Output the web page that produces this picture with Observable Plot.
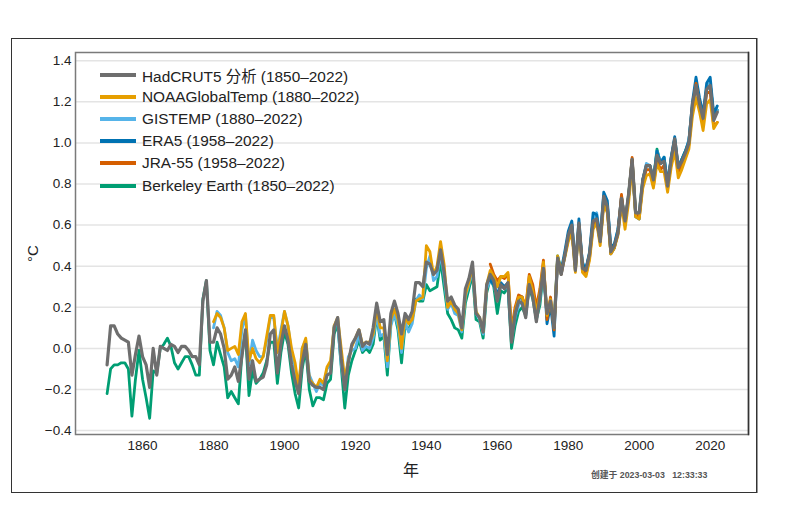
<!DOCTYPE html>
<html>
<head>
<meta charset="utf-8">
<script src="https://cdn.jsdelivr.net/npm/d3@7"></script>
<script src="https://cdn.jsdelivr.net/npm/@observablehq/plot@0.6"></script>
<style>
  body { margin: 0; background: #fff; font-family: "Liberation Sans", "Noto Sans CJK SC", sans-serif; color: #222; }
  #wrap { position: relative; width: 793px; height: 517px; overflow: hidden; }
  #outer { position: absolute; left: 11px; top: 38px; width: 744px; height: 453px; border: 1px solid #333; box-shadow: 1px 0 0 #999; }
  #chart { position: absolute; left: 0; top: 0; }
  .legend { position: absolute; left: 100px; top: 64px; }
  .row { display: flex; align-items: center; height: 22.1px; font-size: 15.4px; white-space: nowrap; }
  .sw { width: 36px; height: 4px; margin-right: 6px; }
  .lab { position: absolute; font-size: 15px; color: #222; }
  #stamp { position: absolute; left: 591px; top: 468px; font-size: 8.8px; font-weight: 600; color: #555; white-space: pre; }
</style>
</head>
<body>
<div id="wrap">
  <div id="outer"></div>
  <div id="chart"></div>
  <div class="legend" id="legend"></div>
  <div class="lab" style="left:24px; top:245px; transform: rotate(-90deg); transform-origin: center;">°C</div>
  <div class="lab" style="left:403px; top:457px; font-size:16px;">年</div>
  <div id="stamp">创建于 2023-03-03   12:33:33</div>
</div>
<script>
// ---- Data (anomalies, °C, relative to 1850–1900) ----
const hadcrutStart = 1850;
const hadcrut = [
  -0.08, 0.11, 0.11, 0.07, 0.05, 0.04, 0.03, -0.13, -0.03, 0.06,
  -0.04, -0.08, -0.19, 0.00, -0.13, 0.01, 0.00, -0.01, 0.02, 0.01,
  -0.02, 0.01, 0.01, -0.01, -0.04, -0.04, -0.08, 0.23, 0.33, 0.03,
  0.03, 0.10, 0.07, 0.00, -0.15, -0.13, -0.09, -0.16, -0.04, 0.09,
  -0.15, -0.06, -0.16, -0.15, -0.14, -0.08, 0.07, 0.09, -0.12, 0.02,
  0.11, 0.04, -0.08, -0.16, -0.22, -0.07, 0.02, -0.16, -0.18, -0.19,
  -0.19, -0.20, -0.13, -0.12, 0.10, 0.15, -0.05, -0.20, -0.07, 0.02,
  0.05, 0.09, 0.01, 0.03, 0.02, 0.10, 0.22, 0.13, 0.14, -0.03,
  0.17, 0.23, 0.17, 0.07, 0.17, 0.14, 0.18, 0.32, 0.32, 0.30,
  0.42, 0.41, 0.36, 0.38, 0.48, 0.37, 0.23, 0.25, 0.21, 0.19,
  0.10, 0.29, 0.34, 0.42, 0.17, 0.15, 0.08, 0.31, 0.36, 0.33,
  0.23, 0.31, 0.29, 0.32, 0.03, 0.17, 0.23, 0.22, 0.15, 0.31,
  0.25, 0.13, 0.25, 0.39, 0.17, 0.23, 0.10, 0.44, 0.36, 0.45,
  0.55, 0.60, 0.38, 0.61, 0.39, 0.38, 0.46, 0.62, 0.63, 0.52,
  0.74, 0.69, 0.47, 0.50, 0.56, 0.73, 0.62, 0.75, 0.92, 0.66,
  0.66, 0.82, 0.89, 0.89, 0.82, 0.94, 0.90, 0.91, 0.79, 0.92,
  1.02, 0.88, 0.91, 0.95, 1.00, 1.19, 1.28, 1.19, 1.12, 1.26,
  1.28, 1.11, 1.15
];
const noaaStart = 1880;
const noaa = [
  0.13, 0.17, 0.15, 0.10, -0.01, 0.00, 0.01, -0.03, 0.13, 0.17,
  -0.06, 0.00, -0.05, -0.07, -0.04, 0.06, 0.16, 0.16, -0.02, 0.07,
  0.18, 0.11, 0.00, -0.07, -0.19, 0.00, 0.05, -0.15, -0.17, -0.19,
  -0.15, -0.17, -0.09, -0.06, 0.11, 0.15, 0.00, -0.15, -0.06, 0.01,
  0.05, 0.09, 0.02, 0.03, 0.03, 0.07, 0.19, 0.10, 0.10, -0.06,
  0.14, 0.19, 0.14, 0.00, 0.15, 0.12, 0.14, 0.23, 0.24, 0.25,
  0.50, 0.47, 0.36, 0.40, 0.52, 0.41, 0.20, 0.23, 0.19, 0.17,
  0.09, 0.26, 0.32, 0.40, 0.18, 0.15, 0.08, 0.31, 0.38, 0.35,
  0.30, 0.35, 0.35, 0.37, 0.08, 0.18, 0.25, 0.25, 0.19, 0.35,
  0.28, 0.17, 0.27, 0.42, 0.16, 0.24, 0.11, 0.45, 0.37, 0.44,
  0.52, 0.56, 0.37, 0.59, 0.37, 0.35, 0.43, 0.58, 0.61, 0.50,
  0.70, 0.66, 0.46, 0.49, 0.55, 0.70, 0.58, 0.71, 0.88, 0.64,
  0.63, 0.78, 0.84, 0.85, 0.78, 0.90, 0.86, 0.86, 0.76, 0.88,
  0.96, 0.83, 0.87, 0.92, 0.97, 1.13, 1.22, 1.15, 1.06, 1.19,
  1.21, 1.07, 1.10
];
const gistempStart = 1880;
const gistemp = [
  0.10, 0.18, 0.16, 0.10, -0.02, -0.06, -0.05, -0.09, 0.09, 0.16,
  -0.08, 0.04, -0.01, -0.04, -0.04, 0.04, 0.15, 0.15, -0.01, 0.09,
  0.18, 0.11, -0.02, -0.11, -0.20, 0.00, 0.04, -0.13, -0.17, -0.21,
  -0.17, -0.18, -0.10, -0.08, 0.11, 0.12, -0.08, -0.19, -0.04, -0.01,
  0.00, 0.07, -0.01, 0.01, 0.00, 0.05, 0.16, 0.06, 0.07, -0.09,
  0.11, 0.17, 0.11, -0.02, 0.13, 0.08, 0.12, 0.23, 0.26, 0.24,
  0.39, 0.45, 0.33, 0.35, 0.46, 0.35, 0.19, 0.22, 0.17, 0.16,
  0.08, 0.25, 0.31, 0.38, 0.17, 0.14, 0.07, 0.29, 0.33, 0.31,
  0.24, 0.31, 0.29, 0.30, 0.04, 0.15, 0.21, 0.23, 0.16, 0.31,
  0.26, 0.14, 0.24, 0.39, 0.15, 0.22, 0.10, 0.44, 0.36, 0.45,
  0.55, 0.61, 0.40, 0.60, 0.42, 0.39, 0.46, 0.62, 0.66, 0.54,
  0.74, 0.70, 0.49, 0.50, 0.58, 0.74, 0.61, 0.74, 0.90, 0.65,
  0.66, 0.82, 0.90, 0.89, 0.81, 0.96, 0.91, 0.93, 0.80, 0.93,
  1.01, 0.88, 0.92, 0.95, 1.02, 1.18, 1.29, 1.20, 1.13, 1.26,
  1.29, 1.13, 1.16
];
const era5Start = 1958;
const era5 = [
  0.33, 0.31,
  0.26, 0.32, 0.30, 0.32, 0.05, 0.16, 0.24, 0.25, 0.17, 0.33,
  0.27, 0.15, 0.26, 0.40, 0.12, 0.21, 0.06, 0.44, 0.38, 0.47,
  0.57, 0.62, 0.40, 0.63, 0.41, 0.39, 0.47, 0.66, 0.65, 0.54,
  0.76, 0.72, 0.49, 0.51, 0.58, 0.74, 0.62, 0.74, 0.92, 0.64,
  0.63, 0.82, 0.89, 0.89, 0.82, 0.96, 0.90, 0.93, 0.80, 0.93,
  1.03, 0.88, 0.92, 0.96, 1.01, 1.20, 1.32, 1.22, 1.14, 1.29,
  1.32, 1.14, 1.18
];
const jra55Start = 1958;
const jra55 = [
  0.41, 0.36,
  0.33, 0.35, 0.34, 0.36, 0.09, 0.20, 0.26, 0.25, 0.20, 0.36,
  0.31, 0.20, 0.29, 0.43, 0.14, 0.25, 0.09, 0.44, 0.36, 0.45,
  0.53, 0.57, 0.40, 0.60, 0.40, 0.36, 0.44, 0.60, 0.62, 0.52,
  0.71, 0.68, 0.46, 0.49, 0.56, 0.75, 0.60, 0.74, 0.93, 0.65,
  0.64, 0.80, 0.87, 0.87, 0.79, 0.92, 0.87, 0.89, 0.78, 0.90,
  1.00, 0.86, 0.89, 0.93, 0.99, 1.16, 1.29, 1.19, 1.10, 1.24,
  1.25, 1.08, 1.10
];
const berkeleyStart = 1850;
const berkeley = [
  -0.22, -0.10, -0.08, -0.08, -0.07, -0.07, -0.10, -0.33, -0.15, -0.01,
  -0.15, -0.24, -0.34, -0.11, -0.12, 0.00, 0.02, 0.05, 0.01, -0.07,
  -0.10, -0.07, -0.04, -0.04, -0.08, -0.13, -0.13, 0.24, 0.33, -0.01,
  -0.08, 0.03, -0.03, -0.09, -0.24, -0.21, -0.24, -0.27, -0.03, 0.08,
  -0.23, -0.11, -0.17, -0.15, -0.12, -0.06, 0.03, 0.03, -0.17, -0.02,
  0.08, 0.02, -0.12, -0.22, -0.29, -0.10, 0.00, -0.20, -0.28, -0.24,
  -0.24, -0.25, -0.17, -0.15, 0.07, 0.12, -0.09, -0.29, -0.13, -0.06,
  -0.01, 0.04, -0.02, 0.00, -0.02, 0.02, 0.16, 0.04, 0.06, -0.13,
  0.13, 0.17, 0.09, -0.07, 0.11, 0.09, 0.14, 0.24, 0.23, 0.23,
  0.31, 0.28, 0.29, 0.30, 0.43, 0.30, 0.17, 0.14, 0.10, 0.09,
  0.05, 0.22, 0.29, 0.36, 0.14, 0.13, 0.05, 0.27, 0.34, 0.30,
  0.17, 0.28, 0.27, 0.30, 0.00, 0.11, 0.18, 0.20, 0.16, 0.30,
  0.24, 0.14, 0.21, 0.38, 0.17, 0.22, 0.12, 0.45, 0.38, 0.45,
  0.55, 0.59, 0.38, 0.60, 0.40, 0.38, 0.46, 0.62, 0.64, 0.52,
  0.72, 0.69, 0.46, 0.49, 0.57, 0.72, 0.61, 0.75, 0.92, 0.66,
  0.66, 0.82, 0.89, 0.89, 0.82, 0.97, 0.90, 0.93, 0.80, 0.92,
  1.02, 0.88, 0.92, 0.96, 1.01, 1.18, 1.28, 1.20, 1.13, 1.26,
  1.29, 1.13, 1.16
];

const seriesNames = ["HadCRUT5 分析 (1850–2022)", "NOAAGlobalTemp (1880–2022)", "GISTEMP (1880–2022)", "ERA5 (1958–2022)", "JRA-55 (1958–2022)", "Berkeley Earth (1850–2022)"];
const seriesColors = ["#6e6e6e", "#e69f00", "#56b4e9", "#0072b2", "#d55e00", "#009e73"];
const xTicks = [1860, 1880, 1900, 1920, 1940, 1960, 1980, 2000, 2020];
const yTicks = [-0.4, -0.2, 0.0, 0.2, 0.4, 0.6, 0.8, 1.0, 1.2, 1.4];

const toRows = (start, vals) => vals.map((v, i) => ({year: start + i, value: v}));
const rows = [
  toRows(hadcrutStart, hadcrut),
  toRows(noaaStart, noaa),
  toRows(gistempStart, gistemp),
  toRows(era5Start, era5),
  toRows(jra55Start, jra55),
  toRows(berkeleyStart, berkeley)
];
// drawing order: Berkeley, GISTEMP, ERA5, JRA-55, NOAA, HadCRUT (on top)
const order = [5, 2, 3, 4, 1, 0];

const chart = Plot.plot({
  width: 793,
  height: 517,
  marginLeft: 75,
  marginRight: 45,
  marginTop: 52,
  marginBottom: 83,
  style: {fontSize: "13.5px", fontFamily: "'Liberation Sans', 'Noto Sans CJK SC', sans-serif", color: "#222", background: "transparent"},
  x: {domain: [1841.1, 2030.8]},
  y: {domain: [-0.419, 1.44]},
  marks: [
    Plot.gridY(yTicks, {stroke: "#e4e4e4", strokeOpacity: 1, strokeWidth: 1.5}),
    ...order.map(k => Plot.line(rows[k], {x: "year", y: "value", stroke: seriesColors[k], strokeWidth: k === 0 ? 3.2 : 2.8})),
    Plot.axisY({ticks: yTicks, tickSize: 0, tickPadding: 4, tickFormat: d3.format(".1f"), label: null}),
    Plot.axisX({ticks: xTicks, tickSize: 0, tickPadding: 6, tickFormat: d => String(d), label: null}),
    Plot.frame({stroke: "#7a7a7a", strokeWidth: 1.5}),
    Plot.frame({anchor: "right", stroke: "#333", strokeWidth: 1.5})
  ]
});
document.getElementById("chart").appendChild(chart);

const legend = document.getElementById("legend");
seriesNames.forEach((name, i) => {
  const row = document.createElement("div");
  row.className = "row";
  const sw = document.createElement("div");
  sw.className = "sw";
  sw.style.background = seriesColors[i];
  const t = document.createElement("span");
  t.textContent = name;
  row.appendChild(sw);
  row.appendChild(t);
  legend.appendChild(row);
});
</script>
</body>
</html>
